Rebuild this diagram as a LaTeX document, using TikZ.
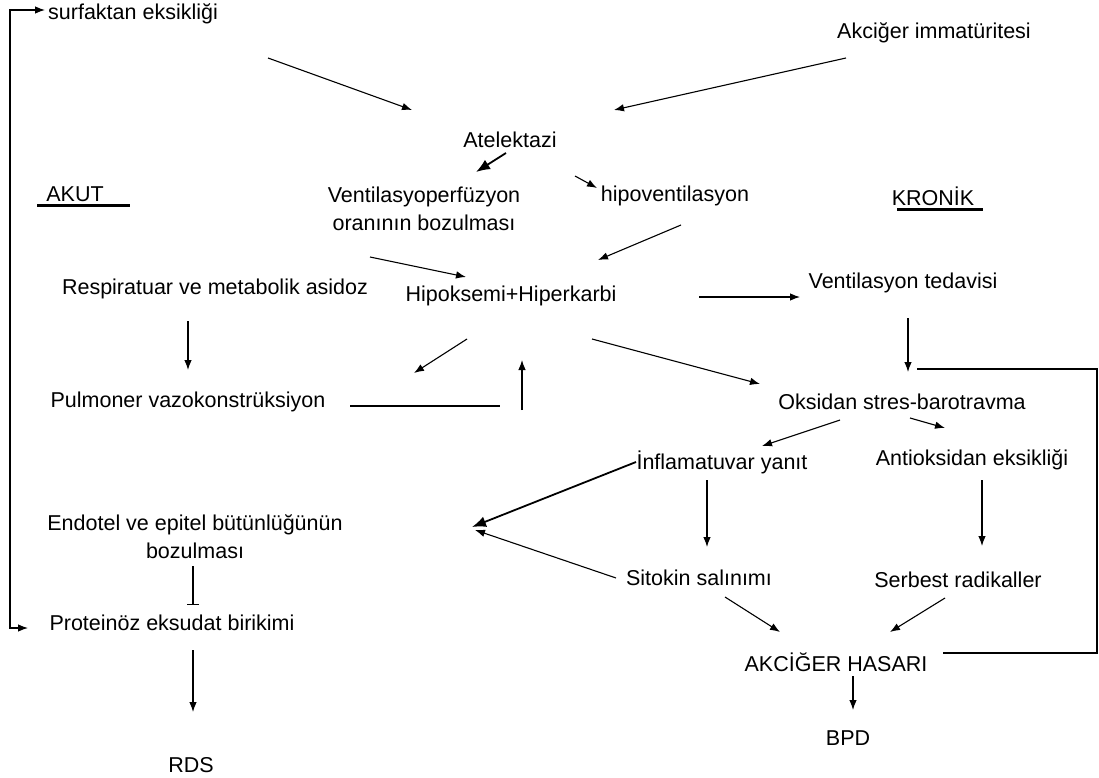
\documentclass[tikz,border=0pt]{standalone}
\usepackage{fontspec}
\setmainfont{Liberation Sans}
\usetikzlibrary{arrows.meta,calc}
\begin{document}
\begin{tikzpicture}[x=1pt,y=-1pt,
  every node/.style={inner sep=0pt,font=\fontsize{21.5}{28}\selectfont},
  lbl/.style={align=center},
  arr/.style={-{Latex[length=10pt,width=7.5pt]},line width=1.1pt},
  thickarr/.style={-{Latex[length=14pt,width=11pt]},line width=1.8pt},
  plain/.style={line width=1.3pt},
  ul/.style={line width=3pt},
  tbar/.style={-{Bar[width=12pt]},line width=1.1pt}]
\useasboundingbox (0,0) rectangle (1099,778);
\fill[white] (0,0) rectangle (1099,778);

\node[lbl] (surf) at (133,14) {surfaktan eksikliği};
\node[lbl] (akc) at (934,33) {Akciğer immatüritesi};
\node[lbl] (atel) at (510,140) {Atelektazi};
\node[lbl] (vent) at (424,209) {Ventilasyoperfüzyon\\oranının bozulması};
\node[lbl] (hipo) at (675,196) {hipoventilasyon};
\node[lbl] (akut) at (75,194) {AKUT};
\node[lbl] (kron) at (933,196) {KRONİK};
\node[lbl] (resp) at (215,289) {Respiratuar ve metabolik asidoz};
\node[lbl] (hipok) at (511,296) {Hipoksemi+Hiperkarbi};
\node[lbl] (venttd) at (903,283) {Ventilasyon tedavisi};
\node[lbl] (pulm) at (188,402) {Pulmoner vazokonstrüksiyon};
\node[lbl] (oks) at (902,402) {Oksidan stres-barotravma};
\node[lbl] (infl) at (722,462) {İnflamatuvar yanıt};
\node[lbl] (anti) at (972,460) {Antioksidan eksikliği};
\node[lbl] (endo) at (195,537) {Endotel ve epitel bütünlüğünün\\bozulması};
\node[lbl] (sito) at (699,578) {Sitokin salınımı};
\node[lbl] (serb) at (958,580) {Serbest radikaller};
\node[lbl] (prot) at (172,623) {Proteinöz eksudat birikimi};
\node[lbl] (hasar) at (836,662) {AKCİĞER HASARI};
\node[lbl] (bpd) at (848,738) {BPD};
\node[lbl] (rds) at (191,765) {RDS};

% underlines
\draw[ul] ($(akut)+(-38,11)$) -- ($(akut)+(55,11)$);
\draw[ul] ($(kron)+(-36,13)$) -- ($(kron)+(50,13)$);

% connectors
\draw[arr] ($(surf)+(135,44)$) -- ($(atel)+(-98,-30)$);
\draw[arr] ($(akc)+(-88,25)$) -- ($(atel)+(104,-30)$);
\draw[thickarr] ($(atel)+(-4,13)$) -- ($(vent)+(52,-37)$);
\draw[arr] ($(atel)+(65,36)$) -- ($(hipo)+(-78,-8)$);
\draw[arr] ($(vent)+(-54,48)$) -- ($(hipok)+(-45,-19)$);
\draw[arr] ($(hipo)+(6,29)$) -- ($(hipok)+(87,-36)$);
\draw[arr] ($(hipok)+(188,1)$) -- ($(venttd)+(-103,14)$);
\draw[arr] ($(resp)+(-27,32)$) -- ($(pulm)+(0,-32)$);
\draw[arr] ($(hipok)+(-44,43)$) -- ($(pulm)+(226,-29)$);
\draw[plain] ($(pulm)+(162,4)$) -- ($(pulm)+(312,4)$);
\draw[arr] ($(pulm)+(334,8)$) -- ($(hipok)+(11,64)$);
\draw[arr] ($(hipok)+(81,43)$) -- ($(oks)+(-142,-18)$);
\draw[arr] ($(venttd)+(5,35)$) -- ($(oks)+(6,-30)$);
\draw[arr] ($(oks)+(-62,18)$) -- ($(infl)+(40,-16)$);
\draw[arr] ($(oks)+(8,16)$) -- ($(anti)+(-27,-32)$);
\draw[thickarr] ($(infl)+(-86,0)$) -- ($(endo)+(277,-10)$);
\draw[arr] ($(infl)+(-15,18)$) -- ($(sito)+(8,-31)$);
\draw[arr] ($(anti)+(10,20)$) -- ($(serb)+(24,-34)$);
\draw[arr] ($(sito)+(-83,0)$) -- ($(endo)+(280,-7)$);
\draw[tbar] ($(endo)+(-2,29)$) -- ($(prot)+(21,-18)$);
\draw[arr] ($(prot)+(21,27)$) -- ($(rds)+(2,-53)$);
\draw[arr] ($(sito)+(26,19)$) -- ($(hasar)+(-56,-30)$);
\draw[arr] ($(serb)+(-13,18)$) -- ($(hasar)+(54,-30)$);
\draw[arr] ($(hasar)+(17,14)$) -- ($(bpd)+(5,-28)$);

% feedback loops
\draw[plain] ($(hasar)+(107,-9)$) -- (1097,653) -- (1097,369) -- ($(oks)+(15,-33)$);
\draw[{Latex[length=10pt,width=7.5pt]}-{Latex[length=10pt,width=7.5pt]},line width=1.1pt]
  ($(prot)+(-144,5)$) -- ++(-18,0) |- ($(surf)+(-88,-4)$);
\end{tikzpicture}
\end{document}
